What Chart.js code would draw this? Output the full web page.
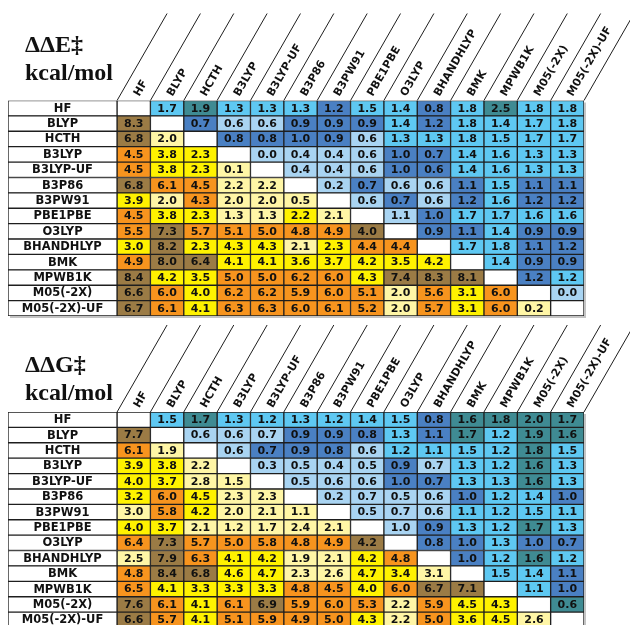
<!DOCTYPE html>
<html>
<head>
<meta charset="utf-8">
<script src="https://cdn.jsdelivr.net/npm/chart.js@4.4.1/dist/chart.umd.min.js"></script>
<style>
  html, body { margin: 0; padding: 0; background: #fff; }
  body { width: 630px; height: 625px; overflow: hidden; position: relative; }
  canvas { position: absolute; left: 0; }
</style>
</head>
<body>
<canvas id="chartE" width="630" height="320" style="top:0"></canvas>
<canvas id="chartG" width="630" height="330" style="top:312px"></canvas>
<script>
// methods, used for rows and columns
const methods = ["HF", "BLYP", "HCTH", "B3LYP", "B3LYP-UF", "B3P86", "B3PW91", "PBE1PBE",
  "O3LYP", "BHANDHLYP", "BMK", "MPWB1K", "M05(-2X)", "M05(-2X)-UF"];

// ΔΔE‡ (kcal/mol), null on the diagonal
const deltaE = [
  [null, 1.7, 1.9, 1.3, 1.3, 1.3, 1.2, 1.5, 1.4, 0.8, 1.8, 2.5, 1.8, 1.8],
  [8.3, null, 0.7, 0.6, 0.6, 0.9, 0.9, 0.9, 1.4, 1.2, 1.8, 1.4, 1.7, 1.8],
  [6.8, 2.0, null, 0.8, 0.8, 1.0, 0.9, 0.6, 1.3, 1.3, 1.8, 1.5, 1.7, 1.7],
  [4.5, 3.8, 2.3, null, 0.0, 0.4, 0.4, 0.6, 1.0, 0.7, 1.4, 1.6, 1.3, 1.3],
  [4.5, 3.8, 2.3, 0.1, null, 0.4, 0.4, 0.6, 1.0, 0.6, 1.4, 1.6, 1.3, 1.3],
  [6.8, 6.1, 4.5, 2.2, 2.2, null, 0.2, 0.7, 0.6, 0.6, 1.1, 1.5, 1.1, 1.1],
  [3.9, 2.0, 4.3, 2.0, 2.0, 0.5, null, 0.6, 0.7, 0.6, 1.2, 1.6, 1.2, 1.2],
  [4.5, 3.8, 2.3, 1.3, 1.3, 2.2, 2.1, null, 1.1, 1.0, 1.7, 1.7, 1.6, 1.6],
  [5.5, 7.3, 5.7, 5.1, 5.0, 4.8, 4.9, 4.0, null, 0.9, 1.1, 1.4, 0.9, 0.9],
  [3.0, 8.2, 2.3, 4.3, 4.3, 2.1, 2.3, 4.4, 4.4, null, 1.7, 1.8, 1.1, 1.2],
  [4.9, 8.0, 6.4, 4.1, 4.1, 3.6, 3.7, 4.2, 3.5, 4.2, null, 1.4, 0.9, 0.9],
  [8.4, 4.2, 3.5, 5.0, 5.0, 6.2, 6.0, 4.3, 7.4, 8.3, 8.1, null, 1.2, 1.2],
  [6.6, 6.0, 4.0, 6.2, 6.2, 5.9, 6.0, 5.1, 2.0, 5.6, 3.1, 6.0, null, 0.0],
  [6.7, 6.1, 4.1, 6.3, 6.3, 6.0, 6.1, 5.2, 2.0, 5.7, 3.1, 6.0, 0.2, null],
];

// ΔΔG‡ (kcal/mol)
const deltaG = [
  [null, 1.5, 1.7, 1.3, 1.2, 1.3, 1.2, 1.4, 1.5, 0.8, 1.6, 1.8, 2.0, 1.7],
  [7.7, null, 0.6, 0.6, 0.7, 0.9, 0.9, 0.8, 1.3, 1.1, 1.7, 1.2, 1.9, 1.6],
  [6.1, 1.9, null, 0.6, 0.7, 0.9, 0.8, 0.6, 1.2, 1.1, 1.5, 1.2, 1.8, 1.5],
  [3.9, 3.8, 2.2, null, 0.3, 0.5, 0.4, 0.5, 0.9, 0.7, 1.3, 1.2, 1.6, 1.3],
  [4.0, 3.7, 2.8, 1.5, null, 0.5, 0.6, 0.6, 1.0, 0.7, 1.3, 1.3, 1.6, 1.3],
  [3.2, 6.0, 4.5, 2.3, 2.3, null, 0.2, 0.7, 0.5, 0.6, 1.0, 1.2, 1.4, 1.0],
  [3.0, 5.8, 4.2, 2.0, 2.1, 1.1, null, 0.5, 0.7, 0.6, 1.1, 1.2, 1.5, 1.1],
  [4.0, 3.7, 2.1, 1.2, 1.7, 2.4, 2.1, null, 1.0, 0.9, 1.3, 1.2, 1.7, 1.3],
  [6.4, 7.3, 5.7, 5.0, 5.8, 4.8, 4.9, 4.2, null, 0.8, 1.0, 1.3, 1.0, 0.7],
  [2.5, 7.9, 6.3, 4.1, 4.2, 1.9, 2.1, 4.2, 4.8, null, 1.0, 1.2, 1.6, 1.2],
  [4.8, 8.4, 6.8, 4.6, 4.7, 2.3, 2.6, 4.7, 3.4, 3.1, null, 1.5, 1.4, 1.1],
  [6.5, 4.1, 3.3, 3.3, 3.3, 4.8, 4.5, 4.0, 6.0, 6.7, 7.1, null, 1.1, 1.0],
  [7.6, 6.1, 4.1, 6.1, 6.9, 5.9, 6.0, 5.3, 2.2, 5.9, 4.5, 4.3, null, 0.6],
  [6.6, 5.7, 4.1, 5.1, 5.9, 4.9, 5.0, 4.3, 2.2, 5.0, 3.6, 4.5, 2.6, null],
];

// class of each cell as shaded in the original table (0 = lowest .. 3 = highest, "-" = diagonal)
const classE = [
  "-1311121121311", "3-200222121111", "30-22220111111", "211-0000221111",
  "2110-000221111", "32200-02002122", "102000-0202122", "2110010-021111",
  "23222223-22122", "131110122-1122", "2331111111-122", "31122221333-21",
  "321222220212-0", "3212222202120-",
];
const classG = [
  "-1311111123333", "3-000222123133", "20-02220111131", "110-0000201131",
  "1100-000221131", "12100-00002112", "021000-0001111", "1100000-021131",
  "23222223-22122", "032110012-2131", "2331100110-112", "21111221233-12",
  "321232220211-3", "3212222102110-",
];

const warmColors = ["#fff6a6", "#fff200", "#f7941e", "#9b7b45"];
const coolColors = ["#a9d4f2", "#5ec8f2", "#4a80c3", "#3f8b93"];
const lineColor = "#1e1e1e";
const labelW = 3.27; // width of the row-label column, in cell units

const cellColor = (cls, i, j) => {
  const c = cls[i][j];
  if (c === "-") return "#ffffff";
  return j < i ? warmColors[+c] : coolColors[+c];
};

const tablePlugin = {
  id: "tableText",
  afterDatasetsDraw(chart, args, opts) {
    const { ctx, chartArea } = chart;
    const xs = chart.scales.x, ys = chart.scales.y;
    const vals = opts.values;
    ctx.save();
    ctx.fillStyle = "#111";
    ctx.textBaseline = "middle";
    ctx.textAlign = "center";
    // row labels
    ctx.font = "bold 11.5px 'DejaVu Sans'";
    methods.forEach((m, i) => {
      ctx.fillText(m, xs.getPixelForValue(-labelW / 2), ys.getPixelForValue(i) + 0.5);
    });
    // cell values
    ctx.font = "bold 11px 'DejaVu Sans'";
    vals.forEach((row, i) => row.forEach((v, j) => {
      if (v === null) return;
      ctx.fillText(v.toFixed(1), xs.getPixelForValue(j + 0.5), ys.getPixelForValue(i) + 0.5);
    }));
    // slanted header lines + names
    ctx.strokeStyle = lineColor;
    ctx.lineWidth = 1;
    const top = chartArea.top;
    for (let j = 0; j <= methods.length; j++) {
      const x0 = xs.getPixelForValue(j);
      ctx.beginPath();
      ctx.moveTo(x0, top);
      ctx.lineTo(x0 + 50, top - 87);
      ctx.stroke();
    }
    ctx.font = "bold 11px 'DejaVu Sans'";
    ctx.textAlign = "left";
    methods.forEach((m, j) => {
      const xc = xs.getPixelForValue(j + 0.5);
      ctx.save();
      ctx.translate(xc + 3, top - 5);
      ctx.rotate(-Math.PI / 3);
      ctx.fillText(m, 0, 0);
      ctx.restore();
    });
    // light shadow along right and bottom edges
    ctx.strokeStyle = "#c4c4c4";
    ctx.lineWidth = 2;
    ctx.beginPath();
    ctx.moveTo(chartArea.right + 1, top + 2);
    ctx.lineTo(chartArea.right + 1, chartArea.bottom + 1);
    ctx.lineTo(chartArea.left + 2, chartArea.bottom + 1);
    ctx.stroke();
    // title
    ctx.fillStyle = "#111";
    ctx.textBaseline = "alphabetic";
    ctx.font = "bold 24px 'Liberation Serif'";
    ctx.fillText(opts.title, 25, opts.titleY[0]);
    ctx.fillText("kcal/mol", 25, opts.titleY[1]);
    ctx.restore();
  },
};

function makeTable(canvasId, values, cls, title, titleY, pad) {
  const datasets = [{
    label: "names",
    data: methods.map(() => [-labelW, 0]),
    backgroundColor: "#ffffff",
  }];
  methods.forEach((m, j) => {
    datasets.push({
      label: m,
      data: methods.map(() => [j, j + 1]),
      backgroundColor: methods.map((_, i) => cellColor(cls, i, j)),
    });
  });
  datasets.forEach((d) => {
    d.borderColor = lineColor;
    d.borderWidth = 1;
    d.borderSkipped = false;
    d.grouped = false;
    d.barPercentage = 1;
    d.categoryPercentage = 1;
  });

  new Chart(document.getElementById(canvasId), {
    type: "bar",
    data: { labels: methods, datasets },
    options: {
      indexAxis: "y",
      responsive: false,
      animation: false,
      events: [],
      layout: { padding: pad },
      plugins: {
        legend: { display: false },
        tooltip: { enabled: false },
        tableText: { values, title, titleY },
      },
      scales: {
        x: { type: "linear", min: -labelW, max: methods.length, display: false },
        y: { type: "category", display: false },
      },
    },
    plugins: [tablePlugin],
  });
}

makeTable("chartE", deltaE, classE, "\u0394\u0394E\u2021", [52, 80],
  { left: 8, right: 46, top: 100.5, bottom: 4 });
makeTable("chartG", deltaG, classG, "\u0394\u0394G\u2021", [60, 88],
  { left: 8, right: 46, top: 100, bottom: 14.5 });
</script>
</body>
</html>
